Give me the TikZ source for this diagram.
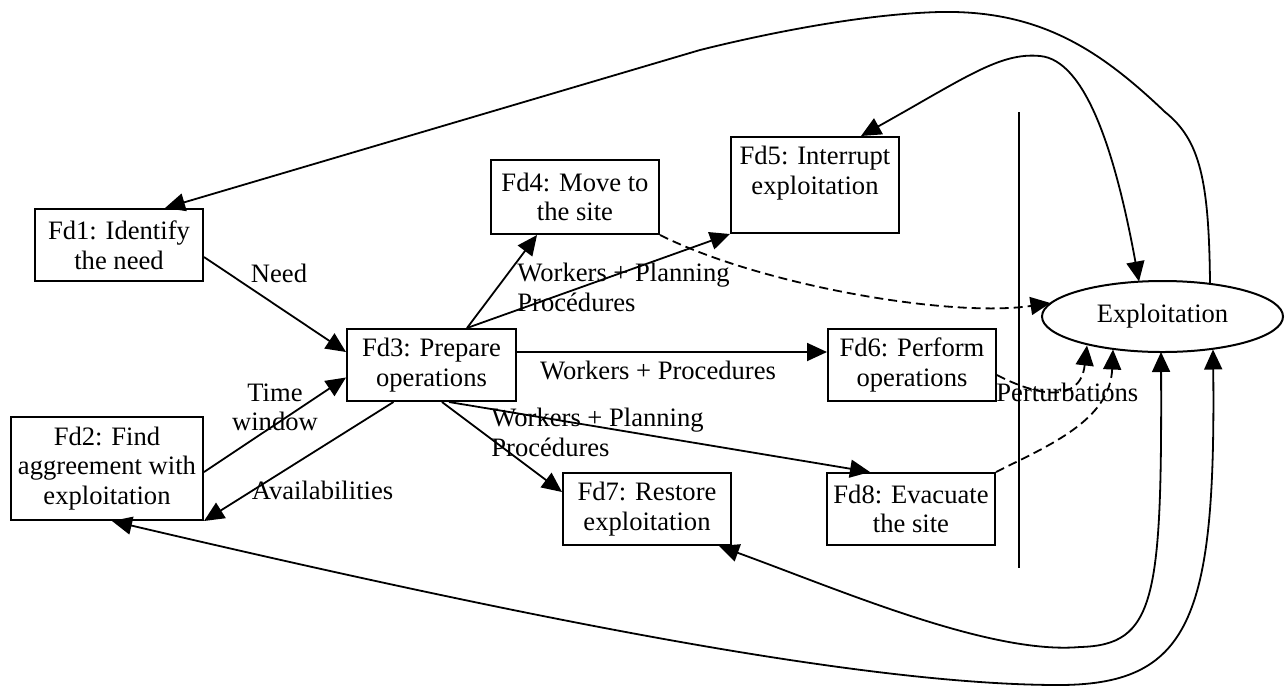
\documentclass[tikz,border=0pt]{standalone}
\usepackage{fontspec}
\setmainfont{Liberation Serif}
\usetikzlibrary{arrows.meta,shapes.geometric,calc}
\begin{document}
\begin{tikzpicture}[x=0.5pt,y=-0.5pt,
  font=\fontsize{13.3}{14.8}\selectfont,
  fbox/.style={draw, line width=1pt, inner sep=0pt, align=center, minimum width=84pt, minimum height=36pt},
  tip/.tip={Triangle[length=10pt,width=9pt]},
  flow/.style={line width=0.9pt, -tip},
  both/.style={line width=0.9pt, tip-tip},
  dashflow/.style={flow, dash pattern=on 4.5pt off 2.5pt},
  lbl/.style={inner sep=0pt, align=center}]
\useasboundingbox (0,0) rectangle (1285,687);

% function boxes
\node[fbox] (fd1) at (119,245) {Fd1: Identify\\the need};
\node[fbox, minimum width=96pt, minimum height=51.5pt] (fd2) at (107,468.5) {Fd2: Find\\aggreement with\\exploitation};
\node[fbox, minimum width=84.5pt] (fd3) at (431.5,365) {Fd3: Prepare\\operations};
\node[fbox, minimum height=37pt] (fd4) at (575,197) {Fd4: Move to\\the site};
\node[fbox, minimum height=48pt] (fd5) at (815,185) {Fd5: Interrupt\\exploitation\\~};
\node[fbox] (fd6) at (912,365) {Fd6: Perform\\operations};
\node[fbox] (fd7) at (647,509) {Fd7: Restore\\exploitation};
\node[fbox] (fd8) at (911,509) {Fd8: Evacuate\\the site};
\node[draw, ellipse, line width=1pt, minimum width=120.5pt, minimum height=35.5pt, inner sep=0pt] (ex) at (1162.5,316.5) {Exploitation};

% boundary line
\coordinate (sepT) at (1019,112);
\coordinate (sepB) at (1019,568);
\draw[line width=0.9pt] (sepT) -- (sepB);

% straight flows
\draw[flow] ($(fd1.east)+(0,12)$) -- ($(fd3.west)+(0,-13)$);
\draw[flow] ($(fd2.east)+(0,3.5)$) -- ($(fd3.west)+(0,12.5)$);
\draw[flow] ($(fd3.south west)+(47.5,0)$) -- (fd2.south east);
\draw[flow] ($(fd3.north west)+(121,0)$) -- ($(fd4.south west)+(47,0)$);
\draw[flow] ($(fd3.north west)+(121,0)$) -- (fd5.south west);
\draw[flow] ($(fd3.east)+(0,-13)$) -- ($(fd6.west)+(0,-13)$);
\draw[flow] ($(fd3.south west)+(96,0)$) -- ($(fd7.west)+(0,-17)$);
\draw[flow] ($(fd3.south west)+(103,0)$) -- ($(fd8.north west)+(44,0)$);

% dashed flows into the exploitation
\draw[dashflow] (fd4.south east) .. controls (760,285) and (950,318) .. ($(ex.center)+(-112,-13.5)$);
\draw[dashflow] ($(fd6.east)+(0,10)$) .. controls (1035,395) and (1080,405) .. ($(ex.center)+(-75.5,29)$);
\draw[dashflow] (fd8.north east) .. controls (1050,445) and (1110,420) .. ($(ex.center)+(-49.5,33)$);

% loops with the exploitation
\draw[both] ($(fd5.north west)+(131,0)$) .. controls (965,78) and (1000,52) .. (1040,56)
  .. controls (1085,60) and (1115,150) .. ($(ex.center)+(-23.5,-35)$);
\draw[flow] ($(ex.center)+(47.5,-33)$) .. controls (1209,180) and (1200,140) .. (1165,112)
  .. controls (1100,50) and (1040,10) .. (940,12)
  .. controls (860,14) and (760,35) .. (700,50) -- ($(fd1.north)+(46,0)$);
\draw[both] ($(fd7.south east)+(-13,0)$) .. controls (840,590) and (990,655) .. (1080,647)
  .. controls (1155,645) and (1162,600) .. ($(ex.center)+(-1.5,35.5)$);
\draw[both] ($(fd2.south)+(5,0)$) .. controls (500,612) and (850,684) .. (1055,685)
  .. controls (1190,686) and (1216,620) .. ($(ex.center)+(50.5,33)$);

% labels
\node[lbl] (lneed) at (279,273) {Need};
\node[lbl] (ltime) at (275,407.5) {Time\\window};
\node[lbl] (lavail) at (322.5,490) {Availabilities};
\node[lbl, anchor=west, align=left] (lwp1) at (517,287.5) {Workers + Planning\\Procédures};
\node[lbl] (lwp) at (658,370) {Workers + Procedures};
\node[lbl, anchor=west, align=left] (lwp2) at (491,432.5) {Workers + Planning\\Procédures};
\node[lbl, anchor=west] (lpert) at (996,392) {Perturbations};
\end{tikzpicture}
\end{document}
